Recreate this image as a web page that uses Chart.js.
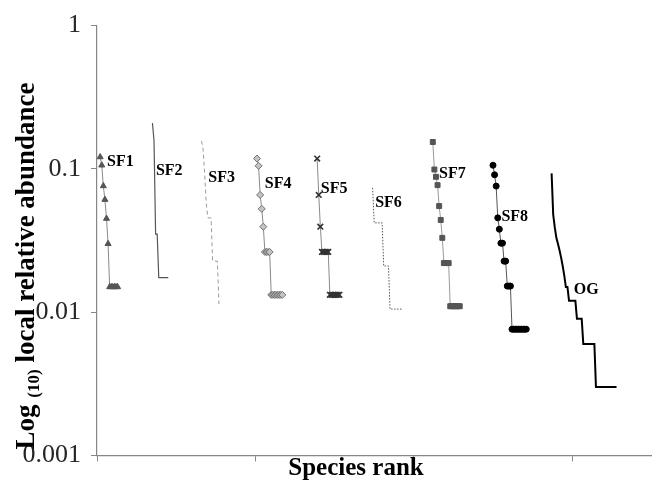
<!DOCTYPE html>
<html>
<head>
<meta charset="utf-8">
<script src="https://cdn.jsdelivr.net/npm/chart.js@4.4.1/dist/chart.umd.min.js"></script>
<style>
    html, body { margin: 0; padding: 0; background: #ffffff; }
    canvas { display: block; }
</style>
</head>
<body>
<canvas id="rankChart" width="657" height="481"></canvas>
<script>
// Rank-abundance data (rank of first species + abundance per rank)
const seriesNames = ['SF1', 'SF2', 'SF3', 'SF4', 'SF5', 'SF6', 'SF7', 'SF8', 'OG'];
const seriesStartRanks = [2, 35, 66, 101, 139, 174, 212, 250, 287];

const sf1Values = [0.121, 0.106, 0.076, 0.061, 0.045, 0.030, 0.015, 0.015, 0.015, 0.015, 0.015, 0.015];
const sf2Values = [0.209, 0.157, 0.035, 0.035, 0.0174, 0.0174, 0.0174, 0.0174, 0.0174, 0.0174, 0.0174];
const sf3Values = [0.157, 0.136, 0.091, 0.057, 0.0455, 0.0455, 0.0455, 0.0227, 0.0227, 0.0227, 0.0227, 0.0114];
const sf4Values = [0.118, 0.105, 0.0658, 0.0526, 0.0395, 0.0263, 0.0263, 0.0263, 0.0263,
    0.0132, 0.0132, 0.0132, 0.0132, 0.0132, 0.0132, 0.0132, 0.0132];
const sf5Values = [0.118, 0.0658, 0.0395, 0.0263, 0.0263, 0.0263, 0.0263, 0.0263,
    0.0132, 0.0132, 0.0132, 0.0132, 0.0132, 0.0132, 0.0132];
const sf6Values = [0.0737, 0.042, 0.042, 0.042, 0.042, 0.042, 0.042, 0.021, 0.021, 0.021, 0.021,
    0.0105, 0.0105, 0.0105, 0.0105, 0.0105, 0.0105, 0.0105, 0.0105, 0.0105];
const sf7Values = [0.154, 0.099, 0.088, 0.077, 0.055, 0.044, 0.033, 0.022, 0.022, 0.022, 0.022,
    0.011, 0.011, 0.011, 0.011, 0.011, 0.011, 0.011];
const sf8Values = [0.106, 0.0909, 0.0758, 0.0455, 0.0379, 0.0303, 0.0303, 0.0227, 0.0227,
    0.0152, 0.0152, 0.0152, 0.0076, 0.0076, 0.0076, 0.0076, 0.0076, 0.0076, 0.0076, 0.0076, 0.0076, 0.0076];
const ogValues = [0.093, 0.048, 0.039, 0.033, 0.030, 0.027, 0.024, 0.021, 0.018, 0.015, 0.015,
    0.012, 0.012, 0.012, 0.012, 0.012, 0.009, 0.009, 0.009, 0.009,
    0.006, 0.006, 0.006, 0.006, 0.006, 0.006, 0.006, 0.006,
    0.003, 0.003, 0.003, 0.003, 0.003, 0.003, 0.003, 0.003, 0.003, 0.003, 0.003, 0.003, 0.003, 0.003];

const yTickValues = [0.001, 0.01, 0.1, 1];
const yTickLabels = ['0.001', '0.01', '0.1', '1'];
const xTickValues = [0, 100, 200, 300];

// where each series name sits (rank, abundance)
const labelRanks = [6.3, 37.2, 70.3, 105.9, 141.3, 175.6, 215.9, 255.3, 301];
const labelValues = [0.112, 0.097, 0.087, 0.078, 0.072, 0.058, 0.092, 0.046, 0.0142];

const allValues = [sf1Values, sf2Values, sf3Values, sf4Values, sf5Values, sf6Values, sf7Values, sf8Values, ogValues];

const axisGray = '#868686';
const serif = '"Liberation Serif", "Times New Roman", serif';

const seriesStyles = [
    { borderColor: '#8a8a8a', borderWidth: 1, pointStyle: 'triangle', pointRadius: 3.5, pointBackgroundColor: '#555555', pointBorderColor: '#555555' },
    { borderColor: '#555555', borderWidth: 1.2, pointRadius: 0 },
    { borderColor: '#9a9a9a', borderWidth: 1, borderDash: [4, 3], pointRadius: 0 },
    { borderColor: '#8a8a8a', borderWidth: 1, pointStyle: 'rectRot', pointRadius: 3.5, pointBackgroundColor: '#c4c4c4', pointBorderColor: '#707070', pointBorderWidth: 1 },
    { borderColor: '#8a8a8a', borderWidth: 1, pointStyle: 'crossRot', pointRadius: 4, pointBorderColor: '#333333', pointBorderWidth: 1.6 },
    { borderColor: '#555555', borderWidth: 1, borderDash: [1.5, 1.5], pointRadius: 0 },
    { borderColor: '#9a9a9a', borderWidth: 1, pointStyle: 'rect', pointRadius: 3.5, pointBackgroundColor: '#555555', pointBorderColor: '#555555' },
    { borderColor: '#555555', borderWidth: 1, pointStyle: 'circle', pointRadius: 3, pointBackgroundColor: '#000000', pointBorderColor: '#000000' },
    { borderColor: '#000000', borderWidth: 2, pointRadius: 0 }
];

const datasets = allValues.map(function(values, s) {
    return Object.assign({
        label: seriesNames[s],
        data: values.map((v, i) => ({ x: seriesStartRanks[s] + i, y: v })),
        fill: false,
        tension: 0,
        borderJoinStyle: 'miter'
    }, seriesStyles[s]);
});

// Series names, the y title with its subscript and the x title
const textPlugin = {
    id: 'figureText',
    afterDraw(chart) {
        const ctx = chart.ctx;
        const xs = chart.scales.x;
        const ys = chart.scales.y;
        ctx.save();
        ctx.fillStyle = '#000000';
        ctx.font = 'bold 16px ' + serif;
        ctx.textAlign = 'left';
        ctx.textBaseline = 'middle';
        seriesNames.forEach(function(name, i) {
            ctx.fillText(name, xs.getPixelForValue(labelRanks[i]), ys.getPixelForValue(labelValues[i]));
        });

        // x title
        ctx.font = 'bold 25px ' + serif;
        ctx.textAlign = 'center';
        ctx.textBaseline = 'alphabetic';
        ctx.fillText('Species rank', 356, 475);

        // y title, rotated
        ctx.translate(34, 266);
        ctx.rotate(-Math.PI / 2);
        const mainFont = 'bold 27px ' + serif;
        const subFont = 'bold 17px ' + serif;
        ctx.font = mainFont;
        const w1 = ctx.measureText('Log ').width;
        const w3 = ctx.measureText(' local relative abundance').width;
        ctx.font = subFont;
        const w2 = ctx.measureText('(10)').width;
        let x = -(w1 + w2 + w3) / 2;
        ctx.textAlign = 'left';
        ctx.font = mainFont;
        ctx.fillText('Log ', x, 0);
        x += w1;
        ctx.font = subFont;
        ctx.fillText('(10)', x, 5);
        x += w2;
        ctx.font = mainFont;
        ctx.fillText(' local relative abundance', x, 0);
        ctx.restore();
    }
};

new Chart(document.getElementById('rankChart'), {
    type: 'line',
    data: { datasets: datasets },
    plugins: [textPlugin],
    options: {
        responsive: false,
        animation: false,
        events: [],
        layout: { padding: { top: 21, right: 0, bottom: 0, left: 0 } },
        plugins: {
            legend: { display: false },
            tooltip: { enabled: false }
        },
        scales: {
            x: {
                type: 'linear',
                min: 0,
                max: 350,
                afterBuildTicks: function(scale) {
                    scale.ticks = xTickValues.map(v => ({ value: v }));
                },
                afterFit: function(scale) {
                    scale.height = 22;
                },
                ticks: { display: false },
                grid: { drawOnChartArea: false, drawTicks: true, tickLength: 6, color: axisGray, lineWidth: 1 },
                border: { color: axisGray, width: 1.2 }
            },
            y: {
                type: 'logarithmic',
                min: 0.001,
                max: 1,
                afterBuildTicks: function(scale) {
                    scale.ticks = yTickValues.map(v => ({ value: v }));
                },
                afterFit: function(scale) {
                    scale.width = 97;
                },
                ticks: {
                    callback: function(value, index) {
                        return yTickLabels[index];
                    },
                    font: { family: serif, size: 26 },
                    color: '#262626',
                    padding: 10
                },
                grid: { drawOnChartArea: false, drawTicks: true, tickLength: 6, color: axisGray, lineWidth: 1 },
                border: { color: axisGray, width: 1.2 }
            }
        }
    }
});
</script>
</body>
</html>
